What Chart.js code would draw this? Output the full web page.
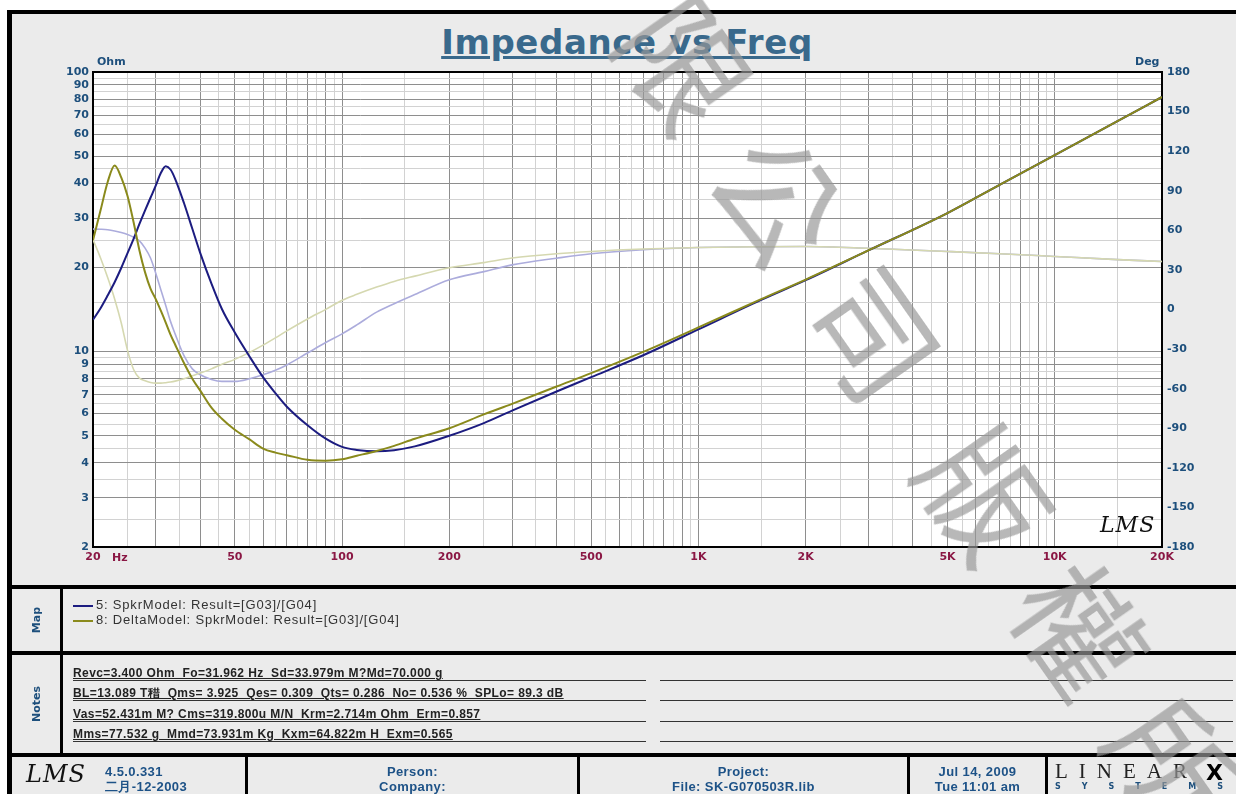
<!DOCTYPE html>
<html>
<head>
<meta charset="utf-8">
<script src="https://cdn.jsdelivr.net/npm/chart.js@4.4.1/dist/chart.umd.min.js"></script>
<style>
  html, body { margin: 0; padding: 0; background: #fff; }
  body { width: 1236px; height: 794px; position: relative; overflow: hidden; font-family: "Liberation Sans", Arial, sans-serif; }
  .abs { position: absolute; }
  #frame { left: 7px; top: 10px; width: 1240px; height: 800px; background: #ebebeb; border-left: 5px solid #000; border-top: 4px solid #000; }
  #chartBox { left: 0; top: 0; width: 1236px; height: 585px; }
  .rule { background: #000; }
  .title { left: 377px; width: 500px; top: 25px; text-align: center; font: bold 34px/34px "DejaVu Sans", sans-serif; letter-spacing: 0.6px; color: #39698c; text-decoration: underline; }
  .unit { font: bold 11px "DejaVu Sans", sans-serif; color: #1d4f7c; }
  .side { font: bold 11px "DejaVu Sans", sans-serif; color: #1d4f7c; transform: translate(-50%, -50%) rotate(-90deg); white-space: nowrap; }
  .legline { height: 2px; width: 20px; left: 73px; }
  .legtext { left: 96px; font: 13px "Liberation Sans", Arial, sans-serif; letter-spacing: 0.8px; color: #333; white-space: pre; }
  .note { left: 73px; width: 573px; height: 13px; border-bottom: 1px solid #333; font: bold 12px "Liberation Sans", Arial, sans-serif; letter-spacing: 0.4px; color: #222; white-space: pre; text-decoration: underline; line-height: 12px; }
  .note2 { left: 660px; width: 573px; height: 1px; background: #333; }
  .foot { font: bold 13px/15px "Liberation Sans", Arial, sans-serif; letter-spacing: 0.4px; color: #1d5287; text-align: center; white-space: nowrap; }
  .lms { font: italic 24px "DejaVu Serif", serif; color: #111; letter-spacing: 1px; }
  #wm { left: 559px; top: -188px; height: 125px; font: 125px/125px "Noto Sans CJK TC", sans-serif; color: rgba(150,150,150,0.68); letter-spacing: 40px; white-space: nowrap; transform-origin: 0 62px; transform: rotate(55deg); z-index: 10; pointer-events: none; }
</style>
</head>
<body>
<div id="frame" class="abs"></div>
<div class="abs title">Impedance vs Freq</div>
<div id="chartBox" class="abs"><canvas id="impChart"></canvas></div>
<div class="abs unit" style="left:97px; top:55px;">Ohm</div>
<div class="abs unit" style="left:1135px; top:55px;">Deg</div>
<div class="abs unit" style="left:112px; top:551px; color:#8a1744;">Hz</div>
<div class="abs lms" style="left:1100px; top:512px; font-size:22px;">LMS</div>

<div class="abs rule" style="left:12px; top:585px; width:1224px; height:4px;"></div>
<div class="abs rule" style="left:12px; top:651px; width:1224px; height:4px;"></div>
<div class="abs rule" style="left:12px; top:753px; width:1224px; height:4px;"></div>
<div class="abs rule" style="left:60px; top:589px; width:3px; height:164px;"></div>

<div class="abs side" style="left:36px; top:620px;">Map</div>
<div class="abs side" style="left:36px; top:704px;">Notes</div>

<div class="abs legline" style="top:605px; background:#1c1c80;"></div>
<div class="abs legtext" style="top:597px;">5: SpkrModel: Result=[G03]/[G04]</div>
<div class="abs legline" style="top:620px; background:#8a8a1c;"></div>
<div class="abs legtext" style="top:612px;">8: DeltaModel: SpkrModel: Result=[G03]/[G04]</div>

<div class="abs note" style="top:667px;">Revc=3.400 Ohm  Fo=31.962 Hz  Sd=33.979m M?Md=70.000 g</div>
<div class="abs note" style="top:687px;">BL=13.089 T稓  Qms= 3.925  Qes= 0.309  Qts= 0.286  No= 0.536 %  SPLo= 89.3 dB</div>
<div class="abs note" style="top:708px;">Vas=52.431m M? Cms=319.800u M/N  Krm=2.714m Ohm  Erm=0.857</div>
<div class="abs note" style="top:728px;">Mms=77.532 g  Mmd=73.931m Kg  Kxm=64.822m H  Exm=0.565</div>
<div class="abs note2" style="top:680px;"></div>
<div class="abs note2" style="top:700px;"></div>
<div class="abs note2" style="top:721px;"></div>
<div class="abs note2" style="top:741px;"></div>

<div class="abs rule" style="left:245px; top:757px; width:3px; height:40px;"></div>
<div class="abs rule" style="left:577px; top:757px; width:3px; height:40px;"></div>
<div class="abs rule" style="left:907px; top:757px; width:3px; height:40px;"></div>
<div class="abs rule" style="left:1045px; top:757px; width:3px; height:40px;"></div>

<div class="abs lms" style="left:26px; top:760px;">LMS</div>
<div class="abs foot" style="left:105px; top:764px; text-align:left;">4.5.0.331<br>二月-12-2003</div>
<div class="abs foot" style="left:248px; width:329px; top:764px;">Person:<br>Company:</div>
<div class="abs foot" style="left:580px; width:327px; top:764px;">Project:<br>File: SK-G070503R.lib</div>
<div class="abs foot" style="left:910px; width:135px; top:764px;">Jul 14, 2009<br>Tue 11:01 am</div>
<div class="abs" style="left:1055px; top:759px; font:21px 'Liberation Serif', serif; letter-spacing:11px; color:#222;">LINEAR</div>
<div class="abs" style="left:1206px; top:760px; font:900 22px 'DejaVu Sans', sans-serif; color:#000;">X</div>
<div class="abs" style="left:1055px; top:782px; font:bold 8px 'DejaVu Sans', sans-serif; letter-spacing:21px; color:#1d4f7c;">SYSTEMS</div>

<div id="wm" class="abs">有限公司<span style="margin-left:30px"></span>版權所有</div>

<script>
// frequencies (Hz) shared by all four traces
const freqs = [20, 21, 22, 23, 24, 25, 26, 27, 28, 29, 30, 31, 32, 33, 34,
  36, 38, 40, 43, 46, 50, 55, 60, 65, 70, 80, 90, 100, 110, 125, 140, 160,
  200, 250, 300, 400, 500, 700, 1000, 1500, 2000, 3000, 5000, 7000, 10000, 15000, 20000];

// 5: SpkrModel impedance (Ohm)
const imp5 = [13.0, 14.3, 15.9, 17.7, 19.9, 22.5, 25.3, 28.6, 32.0, 35.5, 39.2, 43.5, 46.0, 44.8, 41.5,
  34.0, 27.5, 22.5, 17.5, 14.2, 11.7, 9.6, 8.1, 7.1, 6.35, 5.45, 4.88, 4.56, 4.45, 4.40, 4.44, 4.58,
  5.0, 5.55, 6.15, 7.2, 8.1, 9.7, 12.0, 15.3, 18.0, 23.0, 31.3, 39.5, 50.4, 66.7, 81.4];

// 8: DeltaModel impedance (Ohm)
const imp8 = [25.0, 32.0, 40.5, 46.3, 42.0, 36.0, 29.0, 23.0, 19.2, 16.8, 15.4, 14.0, 12.7, 11.5, 10.6,
  9.1, 8.0, 7.25, 6.3, 5.75, 5.25, 4.85, 4.50, 4.35, 4.26, 4.10, 4.07, 4.12, 4.24, 4.41, 4.60, 4.88,
  5.32, 5.96, 6.5, 7.5, 8.37, 9.97, 12.2, 15.4, 18.1, 23.0, 31.3, 39.5, 50.4, 66.7, 81.4];

// phase (deg) of 5 and 8
const phase5 = [61.0, 60.8, 60.4, 59.5, 58.3, 56.8, 54.8, 52.0, 46.5, 39.0, 27.5, 15.0, 3.0, -9.0, -18.5,
  -35.0, -45.0, -49.5, -53.0, -54.5, -54.5, -52.5, -49.5, -46.0, -42.0, -33.0, -25.0, -18.5, -11.7, -2.0, 4.4, 11.3,
  22.5, 28.7, 33.8, 38.9, 42.3, 45.3, 47.0, 47.6, 47.7, 46.4, 44.0, 42.3, 40.2, 37.8, 36.4];

const phase8 = [53.0, 39.0, 24.0, 8.0, -10.0, -31.0, -45.5, -52.0, -54.0, -55.3, -55.8, -55.8, -55.5, -55.0, -54.3,
  -52.5, -50.3, -48.2, -45.0, -41.5, -37.8, -32.5, -27.0, -21.5, -16.2, -7.2, 0.1, 7.0, 11.5, 17.0, 21.3, 25.3,
  31.6, 35.5, 39.0, 42.3, 44.0, 45.8, 47.0, 47.6, 47.7, 46.4, 44.0, 42.3, 40.2, 37.8, 36.4];

// tick labels
const xLabelVals = [20, 50, 100, 200, 500, 1000, 2000, 5000, 10000, 20000];
const xLabelText = ["20", "50", "100", "200", "500", "1K", "2K", "5K", "10K", "20K"];
const ohmLabels = [2, 3, 4, 5, 6, 7, 8, 9, 10, 20, 30, 40, 50, 60, 70, 80, 90, 100];
const degTicks = [-180, -150, -120, -90, -60, -30, 0, 30, 60, 90, 120, 150, 180];

// grid lines: half-steps inside each decade
const xGrid = [];
[10, 100, 1000, 10000].forEach(d => {
  for (let k = 2; k <= 20; k++) {
    const v = d * k / 2;
    if (v >= 20 && v <= 20000 && !xGrid.includes(v)) xGrid.push(v);
  }
});
const yGrid = [];
for (let v = 2; v <= 10; v += 0.5) yGrid.push(v);
for (let v = 15; v <= 100; v += 5) yGrid.push(v);

const darkGrid = "#8e8e8e";
const lightGrid = "#d2d2d2";
const xMajor = v => v % Math.pow(10, Math.floor(Math.log10(v) + 1e-9)) === 0;
const yMajor = v => (v <= 10 && Number.isInteger(v)) || v % 10 === 0;

const tickFont = { family: "DejaVu Sans", weight: "bold", size: 11 };
const blueText = "#1d4f7c";

const plotFrame = {
  id: "plotFrame",
  beforeDraw(chart) {
    const a = chart.chartArea, c = chart.ctx;
    c.save();
    c.fillStyle = "#fff";
    c.fillRect(a.left, a.top, a.right - a.left, a.bottom - a.top);
    c.restore();
  },
  beforeDatasetsDraw(chart) {
    const a = chart.chartArea, c = chart.ctx;
    c.save();
    c.strokeStyle = "#000";
    c.lineWidth = 2;
    c.strokeRect(a.left, a.top, a.right - a.left, a.bottom - a.top);
    c.restore();
  }
};

const pts = arr => freqs.map((f, i) => ({ x: f, y: arr[i] }));

// first dataset ends up on top
new Chart(document.getElementById("impChart"), {
  type: "line",
  data: {
    datasets: [
      { label: "8: DeltaModel", data: pts(imp8), yAxisID: "y", borderColor: "#8a8a1c", borderWidth: 2 },
      { label: "5: SpkrModel", data: pts(imp5), yAxisID: "y", borderColor: "#1c1c80", borderWidth: 2 },
      { label: "phase 8", data: pts(phase8), yAxisID: "y2", borderColor: "#d5d8b0", borderWidth: 1.6 },
      { label: "phase 5", data: pts(phase5), yAxisID: "y2", borderColor: "#acacdc", borderWidth: 1.6 }
    ]
  },
  options: {
    responsive: true,
    maintainAspectRatio: false,
    animation: false,
    layout: { padding: { top: 72 } },
    elements: {
      point: { radius: 0 },
      line: { cubicInterpolationMode: "monotone" }
    },
    plugins: {
      legend: { display: false },
      tooltip: { enabled: false }
    },
    scales: {
      x: {
        type: "logarithmic",
        min: 20,
        max: 20000,
        afterBuildTicks: s => { s.ticks = xGrid.map(v => ({ value: v })); },
        afterFit: s => { s.height = 38; },
        border: { display: false },
        grid: {
          color: c => (c.tick && xMajor(c.tick.value) ? darkGrid : lightGrid),
          drawTicks: false
        },
        ticks: {
          autoSkip: false,
          maxRotation: 0,
          padding: 4,
          color: "#8a1744",
          font: tickFont,
          callback: v => {
            const i = xLabelVals.indexOf(v);
            return i >= 0 ? xLabelText[i] : "";
          }
        }
      },
      y: {
        type: "logarithmic",
        position: "left",
        min: 2,
        max: 100,
        afterBuildTicks: s => { s.ticks = yGrid.map(v => ({ value: v })); },
        afterFit: s => { s.width = 93; },
        border: { display: false },
        grid: {
          color: c => (c.tick && yMajor(c.tick.value) ? darkGrid : lightGrid),
          drawTicks: false
        },
        ticks: {
          autoSkip: false,
          padding: 4,
          color: blueText,
          font: tickFont,
          callback: v => (ohmLabels.includes(v) ? String(v) : "")
        }
      },
      y2: {
        type: "linear",
        position: "right",
        min: -180,
        max: 180,
        afterBuildTicks: s => { s.ticks = degTicks.map(v => ({ value: v })); },
        afterFit: s => { s.width = 74; },
        border: { display: false },
        grid: { drawOnChartArea: false, drawTicks: false },
        ticks: {
          autoSkip: false,
          padding: 5,
          color: blueText,
          font: tickFont,
          callback: v => String(v)
        }
      }
    }
  },
  plugins: [plotFrame]
});
</script>
</body>
</html>
